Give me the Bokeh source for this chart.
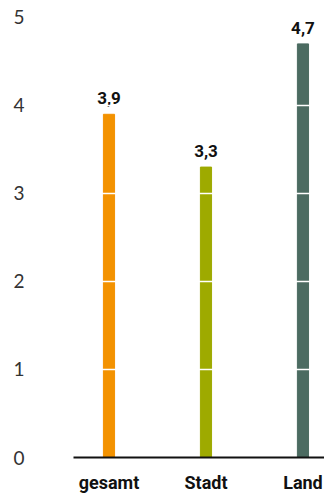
from bokeh.plotting import figure
from bokeh.models import ColumnDataSource, FixedTicker, Range1d
from bokeh.embed import file_html
from bokeh.resources import INLINE
from bokeh.core.properties import value

# Werte je Gebiet
categories = ["gesamt", "Stadt", "Land"]
values = [3.9, 3.3, 4.7]
bar_colors = ["#F39200", "#9EAA00", "#4B6B61"]
y_ticks = [0, 1, 2, 3, 4, 5]

idx = list(range(len(categories)))
src = ColumnDataSource(dict(
    x=idx,
    top=values,
    color=bar_colors,
    label=[f"{v:.1f}".replace(".", ",") for v in values],
))

p = figure(
    width=324, height=495,
    x_range=Range1d(-0.366, 2.222),
    y_range=Range1d(0, 5.193),
    output_backend="svg", toolbar_location=None,
    min_border_left=73, min_border_right=0,
    min_border_top=0, min_border_bottom=38,
)
p.outline_line_color = None
p.background_fill_color = "white"
p.border_fill_color = "white"

p.vbar(x="x", top="top", width=0.115, color="color", source=src)

# value labels above the bars (negative y_offset moves up)
p.text(x="x", y="top", text="label", source=src,
       text_align="center", text_baseline="bottom", y_offset=-10,
       text_font=value("Roboto"), text_font_style="bold",
       text_font_size="17px", text_color="#111111")

# horizontal grid painted over the bars in white
p.xgrid.visible = False
p.ygrid.ticker = FixedTicker(ticks=y_ticks[1:])
p.ygrid.grid_line_color = "white"
p.ygrid.grid_line_width = 1.5
p.ygrid.level = "overlay"

# y axis: labels only
yax = p.yaxis[0]
yax.ticker = FixedTicker(ticks=y_ticks)
yax.axis_line_color = None
yax.major_tick_line_color = None
yax.minor_tick_line_color = None
yax.major_label_text_align = "left"
yax.major_label_standoff = 43
yax.major_label_text_font = "Lato"
yax.major_label_text_font_size = "19px"
yax.major_label_text_color = "#333333"

# x axis: baseline plus bold category names
xax = p.xaxis[0]
xax.ticker = FixedTicker(ticks=idx)
xax.major_label_overrides = {i: c for i, c in zip(idx, categories)}
xax.axis_line_color = "#111111"
xax.axis_line_width = 2
xax.major_tick_line_color = None
xax.minor_tick_line_color = None
xax.major_label_standoff = 8
xax.major_label_text_font = "Roboto"
xax.major_label_text_font_style = "bold"
xax.major_label_text_font_size = "18px"
xax.major_label_text_color = "#111111"

open("out.html", "w").write(file_html(p, INLINE))
